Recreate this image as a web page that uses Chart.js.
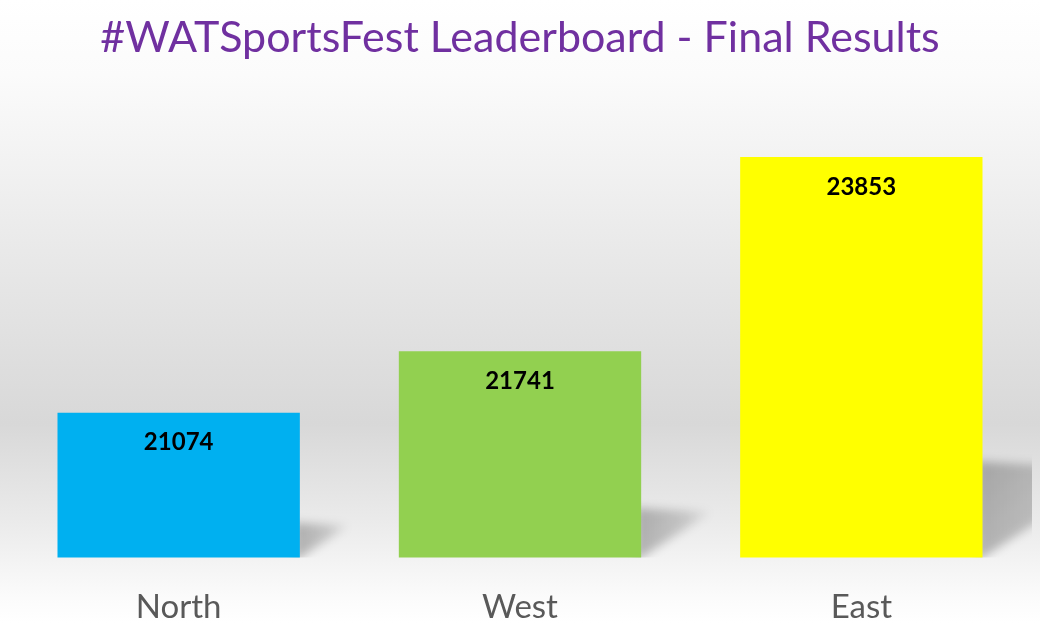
<!DOCTYPE html>
<html>
<head>
<meta charset="utf-8">
<script src="https://cdn.jsdelivr.net/npm/chart.js@4.4.1/dist/chart.umd.min.js"></script>
<style>
  html, body { margin: 0; padding: 0; }
  #wrap {
    width: 1040px; height: 623px; position: relative;
    background: linear-gradient(to bottom, #ffffff 0%, #fbfbfb 12%, #e6e6e6 45%, #d8d8d8 68%, #ebebeb 84%, #fbfbfb 96%, #ffffff 100%);
  }
</style>
</head>
<body>
<div id="wrap"><canvas id="board"></canvas></div>
<script>
// Data for the chart
const regions = ['North', 'West', 'East'];
const points = [21074, 21741, 23853];
const barColors = ['#00B0F0', '#92D050', '#FFFF00'];

// soft wedge shadow behind each bar, like the slide's perspective shadow
const barShadow = {
    id: 'barShadow',
    beforeDatasetsDraw(chart) {
        const ctx = chart.ctx;
        const area = chart.chartArea;
        ctx.save();
        ctx.beginPath();
        ctx.rect(area.left, 0, area.right - area.left, area.bottom);
        ctx.clip();
        ctx.filter = 'blur(5px)';
        chart.getDatasetMeta(0).data.forEach(bar => {
            // the axis does not start at zero, so the visible bar ends at the chart area
            const right = bar.x + bar.width / 2;
            const bottom = Math.min(bar.base, area.bottom);
            const h = bottom - bar.y;
            const grad = ctx.createLinearGradient(right, 0, right + 0.34 * h, 0);
            grad.addColorStop(0, 'rgba(0,0,0,0.26)');
            grad.addColorStop(0.6, 'rgba(0,0,0,0.16)');
            grad.addColorStop(1, 'rgba(0,0,0,0.03)');
            ctx.fillStyle = grad;
            ctx.beginPath();
            ctx.moveTo(right - 6, bottom + 4);
            ctx.lineTo(right - 6, bottom - 0.24 * h);
            ctx.lineTo(right + 0.34 * h, bottom - 0.22 * h);
            ctx.closePath();
            ctx.fill();
        });
        ctx.restore();
    }
};

// value written inside the top of each bar
const barValues = {
    id: 'barValues',
    afterDatasetsDraw(chart) {
        const ctx = chart.ctx;
        ctx.save();
        ctx.font = 'bold 24px Lato';
        ctx.fillStyle = '#000000';
        ctx.textAlign = 'center';
        ctx.textBaseline = 'middle';
        chart.getDatasetMeta(0).data.forEach((bar, i) => {
            ctx.fillText(String(points[i]), bar.x, bar.y + 30);
        });
        ctx.restore();
    }
};

window.onload = function() {
    new Chart(document.getElementById('board'), {
        type: 'bar',
        data: {
            labels: regions,
            datasets: [{
                data: points,
                backgroundColor: barColors,
                borderWidth: 0,
                categoryPercentage: 1,
                barPercentage: 0.71
            }]
        },
        options: {
            responsive: true,
            maintainAspectRatio: false,
            animation: false,
            layout: { padding: { left: 8, right: 8, top: 0, bottom: 0 } },
            plugins: {
                legend: { display: false },
                tooltip: { enabled: false },
                title: {
                    display: true,
                    text: '#WATSportsFest Leaderboard - Final Results',
                    color: '#7030A0',
                    font: { family: 'Lato', size: 43, weight: 'normal', lineHeight: 1.2 },
                    padding: { top: 12, bottom: 34 }
                }
            },
            scales: {
                x: {
                    grid: { display: false, drawTicks: false },
                    border: { display: false },
                    ticks: {
                        color: '#595959',
                        padding: 30,
                        font: { family: 'Lato', size: 33 }
                    },
                    // chart.js counts tick padding twice when fitting the axis
                    afterFit(scale) {
                        scale.height -= scale.options.ticks.padding + 4;
                    }
                },
                y: {
                    display: false,
                    min: 19500,
                    max: 24500
                }
            }
        },
        plugins: [barShadow, barValues]
    });
};
</script>
</body>
</html>
